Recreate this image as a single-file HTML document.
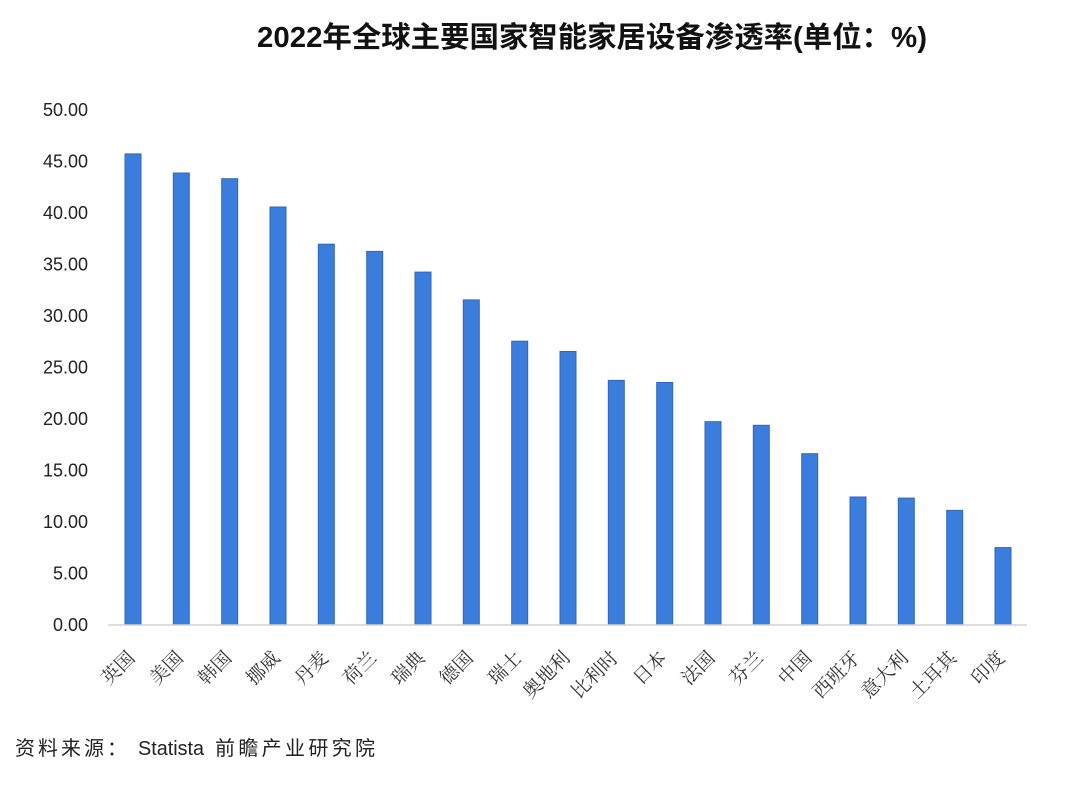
<!DOCTYPE html>
<html>
<head>
<meta charset="utf-8">
<style>
  html, body { margin: 0; padding: 0; background: #ffffff; }
  body { width: 1080px; height: 789px; overflow: hidden; }
  svg { display: block; }
  .title { font-family: "Liberation Sans", "Noto Sans CJK SC", sans-serif; font-weight: bold; font-size: 29px; fill: #111; }
  .ytick { font-family: "Liberation Sans", "DejaVu Sans", sans-serif; font-size: 18px; fill: #222; }
  .xlab { font-family: "Liberation Serif", "Noto Serif CJK SC", serif; font-size: 19px; fill: #333; }
  .foot { font-family: "Liberation Sans", "Noto Sans CJK SC", sans-serif; font-size: 20px; fill: #222; }
  .bar { fill: #3b7ddd; stroke: #2f66bf; stroke-width: 1; }
</style>
</head>
<body>
<svg width="1080" height="789" viewBox="0 0 1080 789" xmlns="http://www.w3.org/2000/svg">
  <rect x="0" y="0" width="1080" height="789" fill="#ffffff"/>

  <!-- Title -->
  <text class="title" x="257" y="47" textLength="670" lengthAdjust="spacingAndGlyphs">2022年全球主要国家智能家居设备渗透率(单位：%)</text>

  <!-- Y axis tick labels -->
  <g class="ytick" text-anchor="end">
    <text x="88" y="116">50.00</text>
    <text x="88" y="167.5">45.00</text>
    <text x="88" y="219">40.00</text>
    <text x="88" y="270.5">35.00</text>
    <text x="88" y="322">30.00</text>
    <text x="88" y="373.5">25.00</text>
    <text x="88" y="425">20.00</text>
    <text x="88" y="476.5">15.00</text>
    <text x="88" y="528">10.00</text>
    <text x="88" y="579.5">5.00</text>
    <text x="88" y="631">0.00</text>
  </g>

  <!-- Bars -->
  <g>
    <rect class="bar" x="125"   y="153.9" width="16" height="471.1"/>
    <rect class="bar" x="173.3" y="173.0" width="16" height="452.0"/>
    <rect class="bar" x="221.7" y="178.7" width="16" height="446.3"/>
    <rect class="bar" x="270"   y="207.0" width="16" height="418.0"/>
    <rect class="bar" x="318.3" y="244.2" width="16" height="380.8"/>
    <rect class="bar" x="366.7" y="251.4" width="16" height="373.6"/>
    <rect class="bar" x="415"   y="272.1" width="16" height="352.9"/>
    <rect class="bar" x="463.3" y="299.9" width="16" height="325.1"/>
    <rect class="bar" x="511.7" y="341.2" width="16" height="283.8"/>
    <rect class="bar" x="560"   y="351.5" width="16" height="273.5"/>
    <rect class="bar" x="608.3" y="380.4" width="16" height="244.6"/>
    <rect class="bar" x="656.7" y="382.5" width="16" height="242.5"/>
    <rect class="bar" x="705"   y="421.7" width="16" height="203.3"/>
    <rect class="bar" x="753.3" y="425.3" width="16" height="199.7"/>
    <rect class="bar" x="801.7" y="453.7" width="16" height="171.3"/>
    <rect class="bar" x="850"   y="497.0" width="16" height="128.0"/>
    <rect class="bar" x="898.3" y="498.1" width="16" height="126.9"/>
    <rect class="bar" x="946.7" y="510.4" width="16" height="114.6"/>
    <rect class="bar" x="995"   y="547.6" width="16" height="77.4"/>
  </g>

  <!-- Baseline -->
  <line x1="108" y1="625" x2="1027" y2="625" stroke="#d2d2d2" stroke-width="1.5"/>

  <!-- X labels rotated -45 -->
  <g class="xlab" text-anchor="end">
    <text transform="translate(136,659) rotate(-45)">英国</text>
    <text transform="translate(184.3,659) rotate(-45)">美国</text>
    <text transform="translate(232.7,659) rotate(-45)">韩国</text>
    <text transform="translate(281,659) rotate(-45)">挪威</text>
    <text transform="translate(329.3,659) rotate(-45)">丹麦</text>
    <text transform="translate(377.7,659) rotate(-45)">荷兰</text>
    <text transform="translate(426,659) rotate(-45)">瑞典</text>
    <text transform="translate(474.3,659) rotate(-45)">德国</text>
    <text transform="translate(522.7,659) rotate(-45)">瑞士</text>
    <text transform="translate(571,659) rotate(-45)">奥地利</text>
    <text transform="translate(619.3,659) rotate(-45)">比利时</text>
    <text transform="translate(667.7,659) rotate(-45)">日本</text>
    <text transform="translate(716,659) rotate(-45)">法国</text>
    <text transform="translate(764.3,659) rotate(-45)">芬兰</text>
    <text transform="translate(812.7,659) rotate(-45)">中国</text>
    <text transform="translate(861,659) rotate(-45)">西班牙</text>
    <text transform="translate(909.3,659) rotate(-45)">意大利</text>
    <text transform="translate(957.7,659) rotate(-45)">土耳其</text>
    <text transform="translate(1006,659) rotate(-45)">印度</text>
  </g>

  <!-- Footer -->
  <g class="foot">
    <text x="15" y="755" textLength="112" lengthAdjust="spacing">资料来源：</text>
    <text x="138" y="755" textLength="66" lengthAdjust="spacingAndGlyphs">Statista</text>
    <text x="215" y="755" textLength="160" lengthAdjust="spacing">前瞻产业研究院</text>
  </g>
</svg>
</body>
</html>
